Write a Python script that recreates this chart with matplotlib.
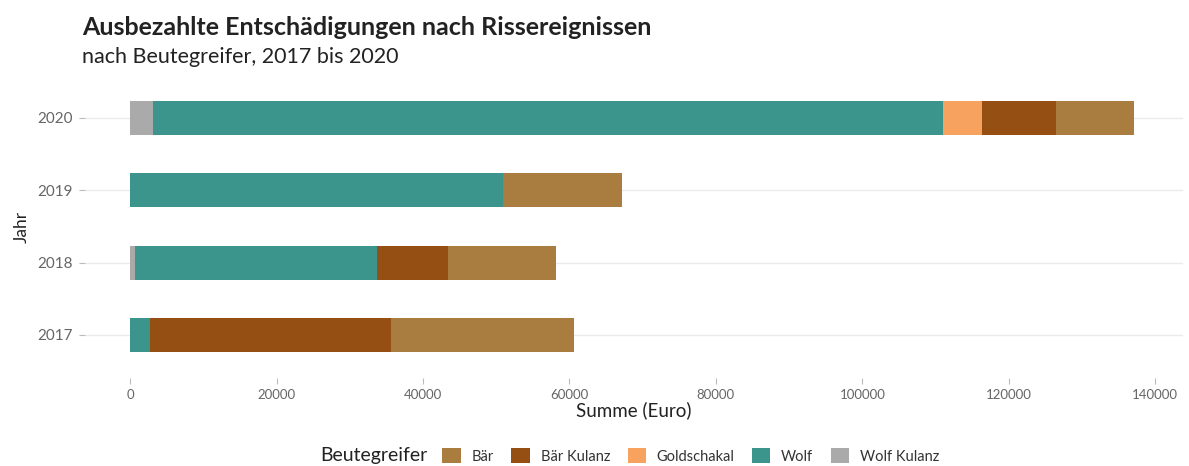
import numpy as np
import matplotlib.pyplot as plt
from matplotlib.patches import Patch

plt.rcParams['font.family'] = ['Lato', 'DejaVu Sans']

# Daten (Euro)
jahre = ["2017", "2018", "2019", "2020"]
wolf_kulanz = [0, 700, 0, 3150]
wolf = [2700, 33000, 50950, 107900]
goldschakal = [0, 0, 0, 5300]
baer_kulanz = [32900, 9700, 0, 10100]
baer = [25000, 14750, 16250, 10650]

# Stapelreihenfolge von links nach rechts
serien = [
    ("Wolf Kulanz", wolf_kulanz, "#AAAAAA"),
    ("Wolf", wolf, "#3C958C"),
    ("Goldschakal", goldschakal, "#F7A25E"),
    ("Bär Kulanz", baer_kulanz, "#964F12"),
    ("Bär", baer, "#A97C40"),
]

fig = plt.figure(figsize=(11.89, 4.66), dpi=100)
ax = fig.add_axes([0.0715, 0.188, 0.9235, 0.652])

y = np.arange(len(jahre))
links = np.zeros(len(jahre))
for name, werte, farbe in serien:
    werte = np.array(werte, dtype=float)
    ax.barh(y, werte, left=links, height=0.47, color=farbe, label=name, zorder=2)
    links += werte

ax.set_yticks(y)
ax.set_yticklabels(jahre)
ax.set_ylim(-0.6, len(jahre) - 0.4)
ax.set_xlim(-6150, 143800)
ax.set_xticks(np.arange(0, 140001, 20000))
ax.set_xticklabels([str(v) for v in range(0, 140001, 20000)])

ax.grid(axis='y', color='#EBEBEB', lw=1, zorder=0)
ax.grid(axis='x', visible=False)
for s in ax.spines.values():
    s.set_visible(False)
ax.tick_params(axis='both', colors='#BBBBBB', labelcolor='#666666', length=4, width=0.8)
ax.tick_params(axis='x', labelsize=9.5)
ax.tick_params(axis='y', labelsize=11, pad=5)

ax.set_xlabel("Summe (Euro)", fontsize=13.5, color='#222222', labelpad=0)
ax.set_ylabel("Jahr", fontsize=12.5, color='#222222', labelpad=5)

fig.text(0.069, 0.94, "Ausbezahlte Entschädigungen nach Rissereignissen",
         fontsize=18, fontweight='bold', color='#222222', va='center')
fig.text(0.069, 0.877, "nach Beutegreifer, 2017 bis 2020",
         fontsize=15.5, color='#222222', va='center')

# Legende unten
fig.text(0.269, 0.022, "Beutegreifer", fontsize=14, color='#222222', va='center')
legende = ["Bär", "Bär Kulanz", "Goldschakal", "Wolf", "Wolf Kulanz"]
farben = {name: farbe for name, _, farbe in serien}
handles = [Patch(facecolor=farben[n], edgecolor='none') for n in legende]
fig.legend(handles, legende, loc='center left', bbox_to_anchor=(0.366, 0.022),
           ncol=5, frameon=False, fontsize=10.5, handlelength=1.25, handleheight=1.25,
           handletextpad=0.75, columnspacing=1.2, labelcolor='#333333', borderpad=0)

fig.savefig("out.png", dpi=100, facecolor='white')
